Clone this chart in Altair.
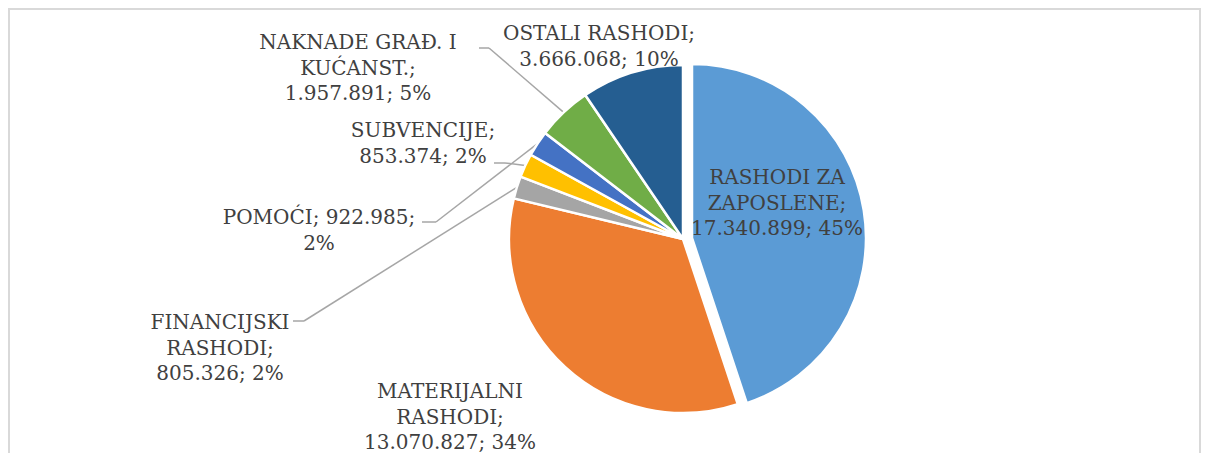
import altair as alt
import pandas as pd

# ---- data ----
categories = [
    "RASHODI ZA ZAPOSLENE",
    "MATERIJALNI RASHODI",
    "FINANCIJSKI RASHODI",
    "SUBVENCIJE",
    "POMOĆI",
    "NAKNADE GRAĐ. I KUĆANST.",
    "OSTALI RASHODI",
]
values = [17340899, 13070827, 805326, 853374, 922985, 1957891, 3666068]
percents = [45, 34, 2, 2, 2, 5, 10]
label_templates = [
    "RASHODI ZA|ZAPOSLENE;|{v}; {p}%",
    "MATERIJALNI|RASHODI;|{v}; {p}%",
    "FINANCIJSKI|RASHODI;|{v}; {p}%",
    "SUBVENCIJE;|{v}; {p}%",
    "POMOĆI; {v};|{p}%",
    "NAKNADE  GRAĐ. I|KUĆANST.;|{v}; {p}%",
    "OSTALI RASHODI;|{v}; {p}%",
]

# ---- styling / layout ----
colors = ["#5B9BD5", "#ED7D31", "#A5A5A5", "#FFC000", "#4472C4", "#70AD47", "#255E91"]
W, H = 1193, 445
CX, CY, R = 675, 231, 174
EXPLODE_DX, EXPLODE_DY = 9, -1
LINE_H = 25.5
label_x = [769, 442, 212, 415, 311, 350, 591]
label_y = [160, 374, 305, 113, 200, 25, 16]
has_leader = [False, False, True, True, True, True, False]
stub_x0 = [0, 0, 285, 486, 414, 471, 0]
stub_x1 = [0, 0, 296, 497, 428, 481, 0]
stub_y = [0, 0, 313, 155, 214, 40, 0]
FONT = "DejaVu Serif"

def fmt(v):
    return f"{v:,}".replace(",", ".")

df = pd.DataFrame({
    "idx": list(range(len(categories))),
    "cat": categories,
    "value": values,
    "lead": has_leader,
    "sx0": stub_x0,
    "sx1": stub_x1,
    "sy": stub_y,
})

# one row per label line
rows = []
for i, (t, v, p) in enumerate(zip(label_templates, values, percents)):
    for k, line in enumerate(t.format(v=fmt(v), p=p).split("|")):
        rows.append({"cat": categories[i], "line": line, "k": k,
                     "lx": label_x[i], "ly0": label_y[i]})
lines_df = pd.DataFrame(rows)

base = alt.Chart(df)
color = alt.Color("cat:N", scale=alt.Scale(domain=categories, range=colors), legend=None)
theta = alt.Theta("value:Q", stack=True)
order = alt.Order("idx:Q", sort="ascending")
is_first = f"datum.cat == '{categories[0]}'"

pie_rest = base.mark_arc(radius=R, stroke="white", strokeWidth=2.5).encode(
    theta=theta, color=color, order=order,
    opacity=alt.condition(is_first, alt.value(0), alt.value(1)),
    x=alt.value(CX), y=alt.value(CY),
)
pie_explode = base.mark_arc(radius=R, stroke="white", strokeWidth=2.5).encode(
    theta=theta, color=color, order=order,
    opacity=alt.condition(is_first, alt.value(1), alt.value(0)),
    x=alt.value(CX + EXPLODE_DX), y=alt.value(CY + EXPLODE_DY),
)

lead_base = base.transform_window(
    cum="sum(value)", sort=[alt.SortField("idx")], frame=[None, 0]
).transform_joinaggregate(total="sum(value)").transform_filter(
    "datum.lead"
).transform_calculate(
    mid="(datum.cum - datum.value/2)/datum.total*2*PI",
).transform_calculate(
    ex=f"{CX} + {R}*sin(datum.mid)",
    ey=f"{CY} - {R}*cos(datum.mid)",
)

line_col = "#A6A6A6"
stubs = lead_base.mark_rule(color=line_col, strokeWidth=1.5).encode(
    x=alt.X("sx0:Q", scale=None, axis=None),
    x2="sx1:Q",
    y=alt.Y("sy:Q", scale=None, axis=None),
    y2="sy:Q",
)
diag = lead_base.mark_rule(color=line_col, strokeWidth=1.5).encode(
    x=alt.X("sx1:Q", scale=None, axis=None),
    x2="ex:Q",
    y=alt.Y("sy:Q", scale=None, axis=None),
    y2="ey:Q",
)

labels = alt.Chart(lines_df).transform_calculate(
    ly=f"datum.ly0 + datum.k*{LINE_H}"
).mark_text(
    font=FONT, fontSize=20, color="#404040", align="center", baseline="top",
).encode(
    x=alt.X("lx:Q", scale=None, axis=None),
    y=alt.Y("ly:Q", scale=None, axis=None),
    text="line:N",
)

fr = alt.Chart(pd.DataFrame({"k": [0]}))
frame_col = "#D9D9D9"
frame_top = fr.mark_rule(color=frame_col, strokeWidth=2).encode(
    x=alt.value(0), x2=alt.value(W - 1), y=alt.value(1), y2=alt.value(1))
frame_left = fr.mark_rule(color=frame_col, strokeWidth=2).encode(
    x=alt.value(1), x2=alt.value(1), y=alt.value(0), y2=alt.value(H))
frame_right = fr.mark_rule(color=frame_col, strokeWidth=2).encode(
    x=alt.value(W - 1), x2=alt.value(W - 1), y=alt.value(0), y2=alt.value(H))

chart = alt.layer(
    frame_top, frame_left, frame_right,
    stubs, diag, pie_rest, pie_explode, labels,
).properties(
    width=W, height=H, autosize=alt.AutoSizeParams(type="none"), padding=0,
    background="white",
).configure_view(stroke=None)

chart.save("out.html", embed_options={"renderer": "svg", "actions": False})
